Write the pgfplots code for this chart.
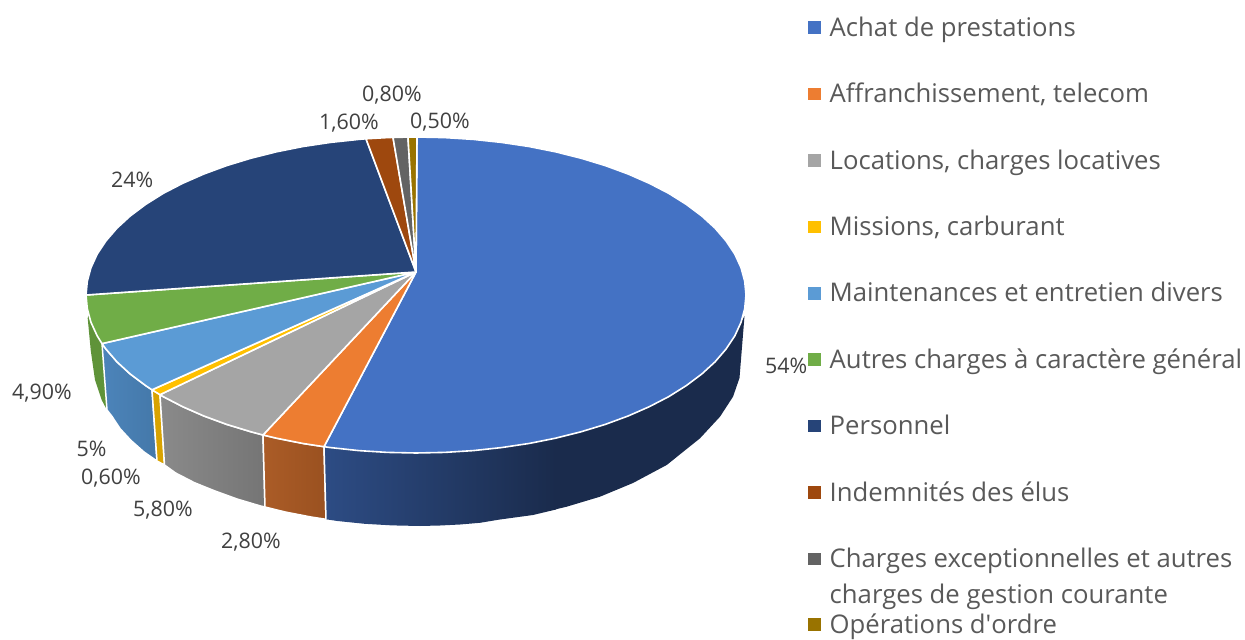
\documentclass[border=0pt]{standalone}
\usepackage{pgfplots}
\pgfplotsset{compat=1.18}
\usepackage{fontspec}
\setmainfont{Open Sans}
\definecolor{c1}{HTML}{4472C4}
\definecolor{c2}{HTML}{ED7D31}
\definecolor{c3}{HTML}{A5A5A5}
\definecolor{c4}{HTML}{FFC000}
\definecolor{c5}{HTML}{5B9BD5}
\definecolor{c6}{HTML}{70AD47}
\definecolor{c7}{HTML}{264478}
\definecolor{c8}{HTML}{9E480E}
\definecolor{c9}{HTML}{636363}
\definecolor{c10}{HTML}{997300}
\definecolor{lab}{HTML}{404040}
\definecolor{leg}{HTML}{595959}
\definecolor{s5a}{HTML}{4C84BA}
\definecolor{s5b}{HTML}{4478A9}
\definecolor{s3a}{HTML}{8A8A8A}
\definecolor{s3b}{HTML}{757575}
\definecolor{s2a}{HTML}{AB5C27}
\definecolor{s2b}{HTML}{9A5120}
\definecolor{s1a}{HTML}{2D4C84}
\definecolor{s1b}{HTML}{1A2B4C}
\definecolor{s4}{HTML}{D9A300}
\definecolor{s6}{HTML}{5F9339}
\tikzset{
  side/.style={line width=1.5pt, draw=white, line join=round},
  top/.style={line width=1.6pt, draw=white, line join=round},
  leglab/.style={anchor=base west, inner sep=0pt, text=leg, font=\fontsize{25.7}{30}\selectfont},
  datlab/.style={anchor=base west, inner sep=0pt, text=lab, font=\fontsize{21.4}{24}\selectfont},
}
\begin{document}
\begin{tikzpicture}
\begin{axis}[
  scale only axis, width=1245pt, height=637pt,
  xmin=0, xmax=1245, ymin=0, ymax=637, y dir=reverse,
  hide axis, clip=false,
]
\path (axis cs:0,0) rectangle (axis cs:1245,637);
% --- sides of the pie ---
\addplot[draw=none, fill=s6] coordinates {
 (102,343.6)(97.2,335.9)(91,322.4)(88.5,315)(87.7,318.3)(90.7,350)(95,380)(101.7,400)(107,410)
} --cycle;
\addplot[side, left color=s5a, right color=s5b] coordinates {
 (102,343.6)(105.9,349)(116.9,361.8)(130.2,374)(145.7,385.6)(152,389.8)
 (157,461)(144,452)(131,440.5)(120,428.6)(111.9,416.3)(107,410)
} --cycle;
\addplot[side, fill=s4] coordinates {
 (152,389.8)(160,394.7)(164.5,465)(157,461)
} --cycle;
\addplot[side, left color=s3a, right color=s3b] coordinates {
 (160,394.7)(163.2,396.6)(182.7,406.7)(203.9,416)(226.7,424.4)(251,431.8)(263,435)
 (265,507)(260.5,506)(237,499)(215,491)(194.4,482.7)(175.6,473)(164.5,465)
} --cycle;
\addplot[side, left color=s2a, right color=s2b] coordinates {
 (263,435)(276.5,438.2)(303.1,443.5)(324,446.7)
 (326,519.3)(311,517)(285.2,512)(265,507)
} --cycle;
\addplot[draw=none, fill=s1b] coordinates {
 (555,438.2)(581,431.8)(605.3,424.4)(628.1,416)(649.3,406.7)(668.8,396.6)(686.3,385.6)(701.8,374)
 (715.1,361.8)(726.1,349)(734.8,335.9)(741,322.4)(744.5,316)
 (739.5,378)(733,396.7)(720,416.7)(700,438.3)(666.7,465)(633,483)(600,496.7)(566.7,506.7)(555,509.5)
} --cycle;
\addplot[draw=none, left color=s1a, right color=s1b] coordinates {
 (324,446.7)(330.6,447.6)(358.7,450.6)(387.2,452.4)(416,453)(444.8,452.4)(473.3,450.6)(501.4,447.6)(528.9,443.5)(556,438.2)
 (556,509.5)(533,515)(500,519.5)(480,522.8)(460,524.5)(440,525.5)(420,526)(392.2,525.4)(364.6,523.8)(337.4,521)(326,519.3)
} --cycle;
\addplot[white, line width=1.5pt] coordinates {(324,446.7)(326,519.3)};
% --- top faces ---
\addplot[top, fill=c1] coordinates {
 (416,272)(417,137)(444.8,137.6)(473.3,139.4)(501.4,142.4)(528.9,146.5)(555.5,151.8)(581,158.2)(605.3,165.6)
 (628.1,174)(649.3,183.3)(668.8,193.4)(686.3,204.4)(701.8,216)(715.1,228.2)(726.1,241)(734.8,254.1)(741,267.6)
 (744.7,281.2)(746,295)(744.7,308.8)(741,322.4)(734.8,335.9)(726.1,349)(715.1,361.8)(701.8,374)(686.3,385.6)
 (668.8,396.6)(649.3,406.7)(628.1,416)(605.3,424.4)(581,431.8)(555.5,438.2)(528.9,443.5)(501.4,447.6)(473.3,450.6)
 (444.8,452.4)(416,453)(387.2,452.4)(358.7,450.6)(330.6,447.6)(324,446.7)
} --cycle;
\addplot[top, fill=c2] coordinates {
 (416,272)(324,446.7)(303.1,443.5)(276.5,438.2)(263,435)
} --cycle;
\addplot[top, fill=c3] coordinates {
 (416,272)(263,435)(251,431.8)(226.7,424.4)(203.9,416)(182.7,406.7)(163.2,396.6)(160,394.7)
} --cycle;
\addplot[top, fill=c4] coordinates {
 (416,272)(160,394.7)(152,389.8)
} --cycle;
\addplot[top, fill=c5] coordinates {
 (416,272)(152,389.8)(145.7,385.6)(130.2,374)(116.9,361.8)(105.9,349)(102,343.6)
} --cycle;
\addplot[top, fill=c6] coordinates {
 (416,272)(102,343.6)(97.2,335.9)(91,322.4)(87.3,308.8)(86,295)
} --cycle;
\addplot[top, fill=c7] coordinates {
 (416,272)(86,295)(87.3,281.2)(91,267.6)(97.2,254.1)(105.9,241)(116.9,228.2)(130.2,216)(145.7,204.4)(163.2,193.4)
 (182.7,183.3)(203.9,174)(226.7,165.6)(251,158.2)(276.5,151.8)(303.1,146.5)(330.6,142.4)(358.7,139.4)(366,138.8)
} --cycle;
\addplot[top, fill=c8] coordinates {
 (416,272)(366,138.8)(387.2,137.6)(393,137.4)
} --cycle;
\addplot[top, fill=c9] coordinates {
 (416,272)(393,137.4)(408,137.1)
} --cycle;
\addplot[top, fill=c10] coordinates {
 (416,272)(408,137.1)(417,137)
} --cycle;
% --- legend markers ---
\addplot[only marks, mark=square*, mark size=5.7pt, mark options={solid, draw=c1, fill=c1}] coordinates {(814,27.3)};
\addplot[only marks, mark=square*, mark size=5.7pt, mark options={solid, draw=c2, fill=c2}] coordinates {(814,94)};
\addplot[only marks, mark=square*, mark size=5.7pt, mark options={solid, draw=c3, fill=c3}] coordinates {(814,160.3)};
\addplot[only marks, mark=square*, mark size=5.7pt, mark options={solid, draw=c4, fill=c4}] coordinates {(814,226.7)};
\addplot[only marks, mark=square*, mark size=5.7pt, mark options={solid, draw=c5, fill=c5}] coordinates {(814,293.3)};
\addplot[only marks, mark=square*, mark size=5.7pt, mark options={solid, draw=c6, fill=c6}] coordinates {(814,359.3)};
\addplot[only marks, mark=square*, mark size=5.7pt, mark options={solid, draw=c7, fill=c7}] coordinates {(814,425.7)};
\addplot[only marks, mark=square*, mark size=5.7pt, mark options={solid, draw=c8, fill=c8}] coordinates {(814,492.3)};
\addplot[only marks, mark=square*, mark size=5.7pt, mark options={solid, draw=c9, fill=c9}] coordinates {(814,558.7)};
\addplot[only marks, mark=square*, mark size=5.7pt, mark options={solid, draw=c10, fill=c10}] coordinates {(814,624.3)};
% --- legend text ---
\node[leglab] at (axis cs:829.5,36.2) {Achat de prestations};
\node[leglab] at (axis cs:829.5,102.9) {Affranchissement, telecom};
\node[leglab] at (axis cs:829.5,169.2) {Locations, charges locatives};
\node[leglab] at (axis cs:829.5,235.8) {Missions, carburant};
\node[leglab] at (axis cs:829.5,301.8) {Maintenances et entretien divers};
\node[leglab] at (axis cs:829.5,368.5) {Autres charges à caractère général};
\node[leglab] at (axis cs:829.5,434.5) {Personnel};
\node[leglab] at (axis cs:829.5,501.5) {Indemnités des élus};
\node[leglab] at (axis cs:829.5,567.5) {Charges exceptionnelles et autres};
\node[leglab] at (axis cs:829.5,603.5) {charges de gestion courante};
\node[leglab] at (axis cs:829.5,633.3) {Opérations d{\addfontfeature{Ligatures=TeXOff}'}ordre};
% --- data labels ---
\node[datlab] at (axis cs:765,373.5) {54\%};
\node[datlab] at (axis cs:12,400) {4,90\%};
\node[datlab] at (axis cs:76.5,456.7) {5\%};
\node[datlab] at (axis cs:81,484.8) {0,60\%};
\node[datlab] at (axis cs:133,516.5) {5,80\%};
\node[datlab] at (axis cs:221,548.7) {2,80\%};
\node[datlab] at (axis cs:111,188) {24\%};
\node[datlab] at (axis cs:319,129.3) {1,60\%};
\node[datlab] at (axis cs:362,101.7) {0,80\%};
\node[datlab] at (axis cs:410,128.3) {0,50\%};
\end{axis}
\end{tikzpicture}
\end{document}
